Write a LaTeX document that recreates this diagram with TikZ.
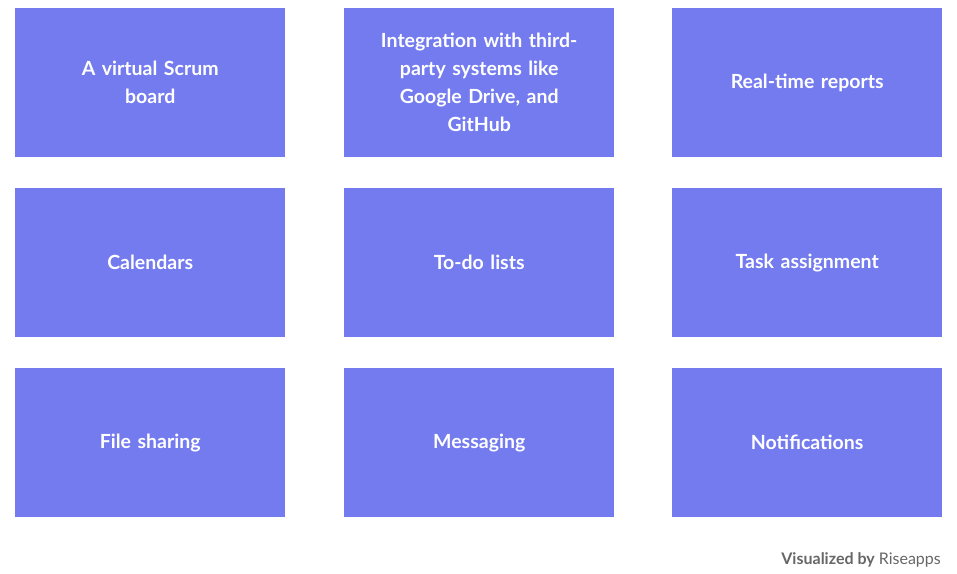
\documentclass[tikz,border=0pt]{standalone}
\usepackage{fontspec}
\setmainfont{Lato}
\definecolor{boxc}{HTML}{737BEF}
\definecolor{foot}{HTML}{666666}
\begin{document}
\begin{tikzpicture}[x=1pt,y=-1pt,
  cell/.style={fill=boxc,draw=none,minimum width=270pt,minimum height=149pt,anchor=north west,inner sep=0pt,
    text=white,font=\fontsize{19.5}{28}\selectfont\bfseries,align=center,text width=240pt}]
\useasboundingbox (0,0) rectangle (957,573);
\node[cell] (a) at (15,8) {A virtual Scrum\\board};
\node[cell] (b) at (344,8) {Integration with third-\\party systems like\\Google Drive, and\\GitHub};
\node[cell] (c) at (672,8) {Real-time reports};
\node[cell] (d) at (15,188) {Calendars};
\node[cell] (e) at (344,188) {To-do lists};
\node[cell] (f) at (672,188) {Task assignment};
\node[cell] (g) at (15,368) {File sharing};
\node[cell] (h) at (344,368) {Messaging};
\node[cell] (i) at (672,368) {Notifications};
\node[anchor=east,text=foot,font=\fontsize{16}{18}\selectfont,inner sep=0pt] (ft) at (941,560) {\textbf{Visualized by} Riseapps};
\end{tikzpicture}
\end{document}
